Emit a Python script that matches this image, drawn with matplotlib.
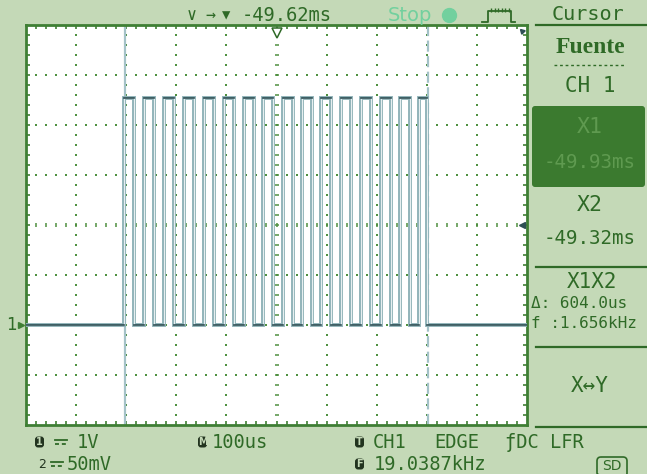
import numpy as np
import matplotlib
matplotlib.use("Agg")
import matplotlib.pyplot as plt
from matplotlib.patches import FancyBboxPatch

# ---- signal data (time in microseconds, relative to screen centre) ----
rise_times = [-304, -264, -224, -184, -144, -104, -64, -26, 12, 50, 88, 128, 168, 208, 246, 284]
fall_times = [-284, -244, -204, -164, -124, -84, -44, -6, 32, 70, 108, 148, 188, 228, 266, 300]
high_volts = 4.55
low_volts = 0.0
ch1_volts_per_div = 1.0
ch1_offset_div = -2.0
time_per_div_us = 100
cursor_x1_us = -302
cursor_x2_us = 302

# ---- readouts ----
top_delay = "-49.62ms"
cursor_x1_text = "-49.93ms"
cursor_x2_text = "-49.32ms"
delta_text = "\u0394: 604.0us"
freq_cursor_text = "f :1.656kHz"
ch1_scale = "1V"
ch2_scale = "50mV"
timebase = "100us"
trig_freq = "19.0387kHz"

BG = "#c4d9b7"
GREEN = "#2f6a27"
BORDER = "#3f7f34"
DOT = "#4f9040"
TRACE = "#8fb2b8"
TRACE_DARK = "#2e4f54"
CURSOR = "#a4c2c8"
ICON = "#22341f"

W, H = 647, 474
fig = plt.figure(figsize=(W / 100, H / 100), dpi=100, facecolor=BG)

# screen area
L, R, T, B = 26, 527, 25, 425
ax = fig.add_axes([L / W, 1 - B / H, (R - L) / W, (B - T) / H])
ax.set_facecolor("white")
half_x = 5 * time_per_div_us
ax.set_xlim(-half_x, half_x)
ax.set_ylim(-4, 4)

# dotted graticule
step_x = time_per_div_us / 5
minor_x = np.arange(-half_x + step_x, half_x, step_x)
minor_y = np.arange(-3.8, 3.81, 0.2)
for gx in np.arange(-4, 5) * time_per_div_us:
    if gx == 0:
        ax.scatter(np.full(minor_y.size, gx), minor_y, marker="_", s=12, lw=1.1, color=DOT, zorder=1)
    else:
        ax.scatter(np.full(minor_y.size, gx), minor_y, marker="s", s=1.6, lw=0, color=DOT, zorder=1)
for gy in range(-3, 4):
    if gy == 0:
        ax.scatter(minor_x, np.full(minor_x.size, gy), marker="|", s=12, lw=1.1, color=DOT, zorder=1)
    else:
        ax.scatter(minor_x, np.full(minor_x.size, gy), marker="s", s=1.6, lw=0, color=DOT, zorder=1)

# border ticks
ax.set_xticks(np.arange(-4, 5) * time_per_div_us)
ax.set_xticks(minor_x, minor=True)
ax.set_yticks(np.arange(-3, 4))
ax.set_yticks(minor_y, minor=True)
ax.tick_params(which="both", direction="in", length=3, width=1.2, color=BORDER,
               top=True, right=True, labelbottom=False, labelleft=False)
for s in ax.spines.values():
    s.set_color(BORDER)
    s.set_linewidth(2)

# build the CH1 trace from the edge times
hi = high_volts / ch1_volts_per_div + ch1_offset_div
lo = low_volts / ch1_volts_per_div + ch1_offset_div
tx, ty = [-half_x], [lo]
for r, f in zip(rise_times, fall_times):
    tx += [r, r, f, f]
    ty += [lo, hi, hi, lo]
tx.append(half_x)
ty.append(lo)
ax.plot(tx, ty, color=TRACE, lw=2.8, solid_joinstyle="miter", zorder=3)
ax.plot(tx, ty, color="#e6eff0", lw=0.8, zorder=4)
# horizontal runs drawn darker
for i in range(0, len(tx) - 1):
    if ty[i] == ty[i + 1]:
        ax.plot([tx[i], tx[i + 1]], [ty[i], ty[i + 1]], color=TRACE_DARK, lw=1.2, zorder=5)

# cursors
ax.axvline(cursor_x1_us, color=CURSOR, lw=1.6, zorder=2)
ax.axvline(cursor_x2_us, color=CURSOR, lw=1.6, ls=(0, (5, 2)), zorder=2)

# trigger markers
ax.plot([0], [3.84], marker="v", ms=7, mfc="white", mec=GREEN, mew=1.1, zorder=6)
ax.plot([half_x - 10], [0], marker="<", ms=5, color=TRACE_DARK, zorder=6, clip_on=False)
ax.plot([half_x - 10], [3.88], marker=(3, 0, 45), ms=4, color=TRACE_DARK, zorder=6)

# overlay in pixel coordinates for the surrounding readouts
ov = fig.add_axes([0, 0, 1, 1], facecolor="none")
ov.set_xlim(0, W)
ov.set_ylim(H, 0)
ov.axis("off")

SANS = ["DejaVu Sans", "Noto Sans CJK SC"]
MONO = ["DejaVu Sans Mono", "DejaVu Sans"]


def txt(x, y, s, size, ha="left", family=MONO, color=GREEN, **kw):
    ov.text(x, y, s, fontsize=size, ha=ha, va="center", family=family, color=color, **kw)


def badge(x, y, letter):
    # dark rounded tag holding a single channel/menu letter
    ov.add_patch(FancyBboxPatch((x, y - 5.5), 9, 11, boxstyle="round,pad=0,rounding_size=3",
                                facecolor=ICON, edgecolor="none"))
    txt(x + 4.5, y, letter, 7, ha="center", family=SANS, color=BG, weight="bold")


def dc_symbol(x, y):
    # direct-current coupling symbol: solid bar over a dashed bar
    ov.plot([x, x + 12], [y - 2, y - 2], color=GREEN, lw=1.3)
    ov.plot([x, x + 12], [y + 2, y + 2], color=GREEN, lw=1.3, ls=(0, (2.2, 1.6)))


# channel 1 marker
txt(11, 325, "1", 12, ha="center", family=SANS)
ov.plot([21], [325], marker=">", ms=5, color=BORDER)

# top bar
txt(192, 15, "\u2228", 12, ha="center")
txt(210, 15, "\u2192", 12, ha="center")
txt(226, 15, "\u25bc", 10, ha="center")
txt(242, 15, top_delay, 13.5)
txt(388, 15, "Stop", 14, family=SANS, color="#72d09e")
ov.plot([449], [15], marker="o", ms=10, color="#72d09e")
ov.plot([482, 488, 488, 511, 511, 515], [22, 22, 11, 11, 22, 22], color=GREEN, lw=1.3)
ov.plot(np.arange(491, 510, 3.5), np.full(6, 9.5), color=GREEN, lw=0, marker="|", ms=2.5)

# right panel
txt(588, 14, "Cursor", 14.5, ha="center")
ov.plot([536, 647], [25, 25], color=GREEN, lw=1.6)
txt(590, 47, "Fuente", 17, ha="center", family="Liberation Serif", weight="bold")
ov.plot([554, 624], [65, 65], color=GREEN, lw=1, ls=(0, (2, 2)))
txt(590, 86, "CH 1", 15, ha="center")
ov.add_patch(FancyBboxPatch((532, 106), 113, 81, boxstyle="round,pad=0,rounding_size=3",
                            facecolor="#3b7a2f", edgecolor="none"))
txt(590, 127, "X1", 15.5, ha="center", color="#5f9a50")
txt(590, 162, cursor_x1_text, 13.8, ha="center", color="#5f9a50")
txt(590, 205, "X2", 15.5, ha="center")
txt(590, 238, cursor_x2_text, 13.8, ha="center")
ov.plot([536, 647], [267, 267], color=GREEN, lw=1.6)
txt(592, 282, "X1X2", 15, ha="center")
txt(531, 304, delta_text, 11.5)
txt(531, 323, freq_cursor_text, 11.5)
ov.plot([536, 647], [347, 347], color=GREEN, lw=1.6)
txt(590, 386, "X\u2194Y", 15, ha="center")
ov.plot([536, 647], [427, 427], color=GREEN, lw=1.6)

# bottom bar
badge(35, 442, "1")
dc_symbol(55, 442)
txt(77, 442, ch1_scale, 13.5)
txt(42, 464, "2", 9, ha="center", family=SANS, color=ICON)
dc_symbol(51, 464)
txt(67, 464, ch2_scale, 13.5)
badge(198, 442, "M")
txt(212, 442, timebase, 13.5)
badge(355, 442, "T")
txt(373, 442, "CH1", 13.5)
txt(434, 442, "EDGE", 13.5)
txt(505, 442, "\u0192DC LFR", 13.5)
badge(355, 464, "F")
txt(374, 464, trig_freq, 13.5)
ov.add_patch(FancyBboxPatch((597, 457), 30, 20, boxstyle="round,pad=0,rounding_size=4",
                            facecolor="none", edgecolor=GREEN, lw=1.2))
txt(612, 466, "SD", 10, ha="center", family=SANS)

fig.savefig("out.png", dpi=100, facecolor=BG)
